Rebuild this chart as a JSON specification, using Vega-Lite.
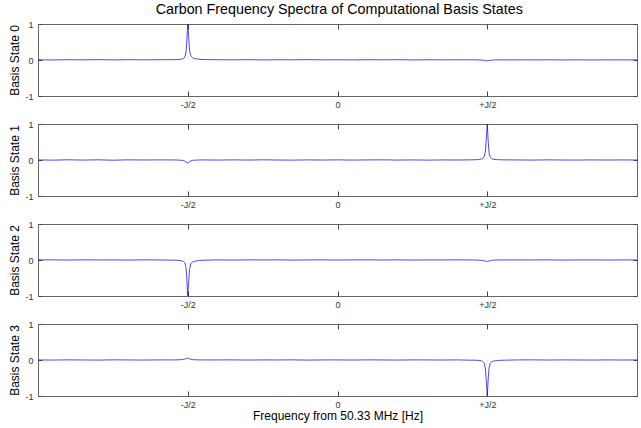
{
  "$schema": "https://vega.github.io/schema/vega-lite/v6.json",
  "autosize": {"type": "pad"},
  "padding": {"left": 8, "top": 3, "right": 4, "bottom": 5},
  "background": "white",
  "title": {"text": "Carbon Frequency Spectra of Computational Basis States", "font": "Liberation Sans", "fontSize": 14.3, "fontWeight": "normal", "color": "black", "anchor": "middle", "offset": 2, "dx": 16},
  "config": {
    "font": "Liberation Sans",
    "view": {"stroke": "#666666", "strokeWidth": 1},
    "axis": {"grid": false, "domainColor": "#666666", "tickColor": "#444444", "labelColor": "#333333", "labelFontSize": 9, "labelFont": "Liberation Sans", "labelOverlap": false, "titleFont": "Liberation Sans", "titleFontSize": 12, "titleFontWeight": "normal", "titleColor": "black"}
  },
  "bounds": "flush",
  "spacing": 28,
  "datasets": {
    "spec": [
      {"x": -1, "a": 0.006, "b": 0.003, "c": 0.002, "d": 0.003},
      {"x": -0.95, "a": 0.002, "b": -0.004, "c": 0.004, "d": -0.002},
      {"x": -0.9, "a": 0.008, "b": 0.006, "c": -0.002, "d": 0.004},
      {"x": -0.85, "a": 0.004, "b": -0.002, "c": 0.005, "d": 0.001},
      {"x": -0.8, "a": 0.01, "b": 0.005, "c": 0.001, "d": -0.003},
      {"x": -0.75, "a": 0.003, "b": -0.006, "c": 0.003, "d": 0.004},
      {"x": -0.7, "a": 0.009, "b": 0.004, "c": -0.003, "d": 0.002},
      {"x": -0.65, "a": 0.005, "b": 0.0, "c": 0.004, "d": -0.002},
      {"x": -0.6, "a": 0.007, "b": 0.003, "c": 0.002, "d": 0.003},
      {"x": -0.56, "a": 0.01, "b": 0.002, "c": -0.004, "d": 0.002},
      {"x": -0.54, "a": 0.012, "b": 0.0, "c": -0.006, "d": 0.003},
      {"x": -0.53, "a": 0.015, "b": -0.003, "c": -0.012, "d": 0.006},
      {"x": -0.52, "a": 0.025, "b": -0.008, "c": -0.022, "d": 0.01},
      {"x": -0.515, "a": 0.04, "b": -0.015, "c": -0.04, "d": 0.016},
      {"x": -0.51, "a": 0.075, "b": -0.03, "c": -0.075, "d": 0.025},
      {"x": -0.506, "a": 0.2, "b": -0.055, "c": -0.2, "d": 0.038},
      {"x": -0.503, "a": 0.55, "b": -0.075, "c": -0.55, "d": 0.048},
      {"x": -0.5, "a": 1.0, "b": -0.08, "c": -1.0, "d": 0.05},
      {"x": -0.497, "a": 0.62, "b": -0.07, "c": -0.6, "d": 0.045},
      {"x": -0.494, "a": 0.27, "b": -0.045, "c": -0.26, "d": 0.032},
      {"x": -0.49, "a": 0.12, "b": -0.025, "c": -0.11, "d": 0.02},
      {"x": -0.485, "a": 0.07, "b": -0.012, "c": -0.06, "d": 0.012},
      {"x": -0.48, "a": 0.045, "b": -0.006, "c": -0.04, "d": 0.008},
      {"x": -0.47, "a": 0.03, "b": -0.003, "c": -0.025, "d": 0.005},
      {"x": -0.46, "a": 0.018, "b": 0.001, "c": -0.012, "d": 0.003},
      {"x": -0.44, "a": 0.01, "b": 0.002, "c": -0.005, "d": 0.002},
      {"x": -0.4, "a": 0.008, "b": -0.003, "c": 0.003, "d": 0.002},
      {"x": -0.35, "a": 0.004, "b": 0.004, "c": -0.002, "d": 0.004},
      {"x": -0.3, "a": 0.009, "b": -0.002, "c": 0.004, "d": -0.002},
      {"x": -0.25, "a": 0.003, "b": 0.005, "c": 0.001, "d": 0.003},
      {"x": -0.2, "a": 0.007, "b": 0.0, "c": 0.005, "d": 0.001},
      {"x": -0.15, "a": 0.005, "b": -0.004, "c": -0.003, "d": 0.004},
      {"x": -0.1, "a": 0.01, "b": 0.003, "c": 0.002, "d": -0.003},
      {"x": -0.05, "a": 0.004, "b": -0.001, "c": 0.004, "d": 0.002},
      {"x": 0, "a": 0.006, "b": 0.004, "c": -0.001, "d": 0.003},
      {"x": 0.05, "a": 0.003, "b": -0.003, "c": 0.003, "d": -0.002},
      {"x": 0.1, "a": 0.008, "b": 0.002, "c": 0.005, "d": 0.004},
      {"x": 0.15, "a": 0.005, "b": 0.005, "c": 0.0, "d": 0.001},
      {"x": 0.2, "a": 0.009, "b": -0.002, "c": 0.004, "d": -0.002},
      {"x": 0.25, "a": 0.002, "b": 0.003, "c": -0.002, "d": 0.003},
      {"x": 0.3, "a": 0.007, "b": -0.004, "c": 0.003, "d": 0.002},
      {"x": 0.35, "a": 0.004, "b": 0.002, "c": 0.001, "d": -0.001},
      {"x": 0.4, "a": 0.006, "b": 0.0, "c": 0.004, "d": 0.003},
      {"x": 0.44, "a": 0.006, "b": 0.004, "c": 0.002, "d": -0.005},
      {"x": 0.46, "a": 0.004, "b": 0.007, "c": 0.0, "d": -0.006},
      {"x": 0.47, "a": 0.002, "b": 0.012, "c": -0.003, "d": -0.01},
      {"x": 0.48, "a": -0.002, "b": 0.025, "c": -0.008, "d": -0.02},
      {"x": 0.485, "a": -0.006, "b": 0.045, "c": -0.014, "d": -0.04},
      {"x": 0.49, "a": -0.01, "b": 0.1, "c": -0.022, "d": -0.09},
      {"x": 0.494, "a": -0.015, "b": 0.25, "c": -0.032, "d": -0.25},
      {"x": 0.497, "a": -0.02, "b": 0.6, "c": -0.04, "d": -0.6},
      {"x": 0.5, "a": -0.022, "b": 1.0, "c": -0.042, "d": -1.0},
      {"x": 0.503, "a": -0.018, "b": 0.55, "c": -0.036, "d": -0.55},
      {"x": 0.506, "a": -0.012, "b": 0.2, "c": -0.025, "d": -0.22},
      {"x": 0.51, "a": -0.007, "b": 0.07, "c": -0.015, "d": -0.09},
      {"x": 0.515, "a": -0.003, "b": 0.035, "c": -0.008, "d": -0.05},
      {"x": 0.52, "a": 0.0, "b": 0.02, "c": -0.004, "d": -0.03},
      {"x": 0.53, "a": 0.003, "b": 0.012, "c": -0.001, "d": -0.02},
      {"x": 0.54, "a": 0.005, "b": 0.007, "c": 0.001, "d": -0.01},
      {"x": 0.56, "a": 0.004, "b": 0.004, "c": 0.002, "d": -0.005},
      {"x": 0.6, "a": 0.005, "b": 0.002, "c": 0.003, "d": 0.002},
      {"x": 0.65, "a": 0.003, "b": -0.003, "c": 0.001, "d": 0.004},
      {"x": 0.7, "a": 0.006, "b": 0.004, "c": 0.004, "d": -0.001},
      {"x": 0.75, "a": 0.002, "b": 0.0, "c": -0.002, "d": 0.003},
      {"x": 0.8, "a": 0.004, "b": -0.002, "c": 0.002, "d": 0.001},
      {"x": 0.85, "a": 0.001, "b": 0.003, "c": 0.003, "d": -0.002},
      {"x": 0.9, "a": 0.005, "b": -0.001, "c": 0.0, "d": 0.003},
      {"x": 0.95, "a": 0.003, "b": 0.002, "c": 0.002, "d": 0.0},
      {"x": 1, "a": 0.004, "b": 0.0, "c": 0.001, "d": 0.002}
    ]
  },
  "vconcat": [
    {
      "width": 599, "height": 72,
      "data": {"name": "spec"},
      "layer": [
        {"mark": {"type": "line", "color": "#1a1aff", "strokeWidth": 0.8, "clip": true},
         "encoding": {
           "x": {"field": "x", "type": "quantitative", "scale": {"domain": [-1, 1], "nice": false, "zero": false},
                 "axis": {"orient": "bottom", "values": [-0.5, 0, 0.5], "labelExpr": "datum.value < 0 ? '-J/2' : datum.value > 0 ? '+J/2' : '0'", "tickSize": -5, "labelPadding": 9, "title": null, "domain": false}},
           "y": {"field": "a", "type": "quantitative", "scale": {"domain": [-1, 1], "nice": false},
                 "axis": {"orient": "left", "values": [-1, 0, 1], "labelExpr": "datum.value < 0 ? '-1' : datum.value > 0 ? '1' : '0'", "tickSize": -4, "labelPadding": 9, "title": "Basis State 0", "titlePadding": 3, "domain": false}}
         }},
        {"mark": {"type": "line", "opacity": 0},
         "encoding": {
           "x": {"field": "x", "type": "quantitative", "scale": {"domain": [-1, 1], "nice": false, "zero": false},
                 "axis": {"orient": "top", "values": [-0.5, 0, 0.5], "labels": false, "tickSize": -5, "title": null, "domain": false}},
           "y": {"field": "a", "type": "quantitative", "scale": {"domain": [-1, 1], "nice": false},
                 "axis": {"orient": "right", "values": [-1, 0, 1], "labels": false, "tickSize": -4, "title": null, "domain": false}}
         }}
      ],
      "resolve": {"axis": {"x": "independent", "y": "independent"}}
    },
    {
      "width": 599, "height": 72,
      "data": {"name": "spec"},
      "layer": [
        {"mark": {"type": "line", "color": "#1a1aff", "strokeWidth": 0.8, "clip": true},
         "encoding": {
           "x": {"field": "x", "type": "quantitative", "scale": {"domain": [-1, 1], "nice": false, "zero": false},
                 "axis": {"orient": "bottom", "values": [-0.5, 0, 0.5], "labelExpr": "datum.value < 0 ? '-J/2' : datum.value > 0 ? '+J/2' : '0'", "tickSize": -5, "labelPadding": 9, "title": null, "domain": false}},
           "y": {"field": "b", "type": "quantitative", "scale": {"domain": [-1, 1], "nice": false},
                 "axis": {"orient": "left", "values": [-1, 0, 1], "labelExpr": "datum.value < 0 ? '-1' : datum.value > 0 ? '1' : '0'", "tickSize": -4, "labelPadding": 9, "title": "Basis State 1", "titlePadding": 3, "domain": false}}
         }},
        {"mark": {"type": "line", "opacity": 0},
         "encoding": {
           "x": {"field": "x", "type": "quantitative", "scale": {"domain": [-1, 1], "nice": false, "zero": false},
                 "axis": {"orient": "top", "values": [-0.5, 0, 0.5], "labels": false, "tickSize": -5, "title": null, "domain": false}},
           "y": {"field": "b", "type": "quantitative", "scale": {"domain": [-1, 1], "nice": false},
                 "axis": {"orient": "right", "values": [-1, 0, 1], "labels": false, "tickSize": -4, "title": null, "domain": false}}
         }}
      ],
      "resolve": {"axis": {"x": "independent", "y": "independent"}}
    },
    {
      "width": 599, "height": 72,
      "data": {"name": "spec"},
      "layer": [
        {"mark": {"type": "line", "color": "#1a1aff", "strokeWidth": 0.8, "clip": true},
         "encoding": {
           "x": {"field": "x", "type": "quantitative", "scale": {"domain": [-1, 1], "nice": false, "zero": false},
                 "axis": {"orient": "bottom", "values": [-0.5, 0, 0.5], "labelExpr": "datum.value < 0 ? '-J/2' : datum.value > 0 ? '+J/2' : '0'", "tickSize": -5, "labelPadding": 9, "title": null, "domain": false}},
           "y": {"field": "c", "type": "quantitative", "scale": {"domain": [-1, 1], "nice": false},
                 "axis": {"orient": "left", "values": [-1, 0, 1], "labelExpr": "datum.value < 0 ? '-1' : datum.value > 0 ? '1' : '0'", "tickSize": -4, "labelPadding": 9, "title": "Basis State 2", "titlePadding": 3, "domain": false}}
         }},
        {"mark": {"type": "line", "opacity": 0},
         "encoding": {
           "x": {"field": "x", "type": "quantitative", "scale": {"domain": [-1, 1], "nice": false, "zero": false},
                 "axis": {"orient": "top", "values": [-0.5, 0, 0.5], "labels": false, "tickSize": -5, "title": null, "domain": false}},
           "y": {"field": "c", "type": "quantitative", "scale": {"domain": [-1, 1], "nice": false},
                 "axis": {"orient": "right", "values": [-1, 0, 1], "labels": false, "tickSize": -4, "title": null, "domain": false}}
         }}
      ],
      "resolve": {"axis": {"x": "independent", "y": "independent"}}
    },
    {
      "width": 599, "height": 72,
      "data": {"name": "spec"},
      "layer": [
        {"mark": {"type": "line", "color": "#1a1aff", "strokeWidth": 0.8, "clip": true},
         "encoding": {
           "x": {"field": "x", "type": "quantitative", "scale": {"domain": [-1, 1], "nice": false, "zero": false},
                 "axis": {"orient": "bottom", "values": [-0.5, 0, 0.5], "labelExpr": "datum.value < 0 ? '-J/2' : datum.value > 0 ? '+J/2' : '0'", "tickSize": -5, "labelPadding": 9, "title": "Frequency from 50.33 MHz [Hz]", "titlePadding": 1, "domain": false}},
           "y": {"field": "d", "type": "quantitative", "scale": {"domain": [-1, 1], "nice": false},
                 "axis": {"orient": "left", "values": [-1, 0, 1], "labelExpr": "datum.value < 0 ? '-1' : datum.value > 0 ? '1' : '0'", "tickSize": -4, "labelPadding": 9, "title": "Basis State 3", "titlePadding": 3, "domain": false}}
         }},
        {"mark": {"type": "line", "opacity": 0},
         "encoding": {
           "x": {"field": "x", "type": "quantitative", "scale": {"domain": [-1, 1], "nice": false, "zero": false},
                 "axis": {"orient": "top", "values": [-0.5, 0, 0.5], "labels": false, "tickSize": -5, "title": null, "domain": false}},
           "y": {"field": "d", "type": "quantitative", "scale": {"domain": [-1, 1], "nice": false},
                 "axis": {"orient": "right", "values": [-1, 0, 1], "labels": false, "tickSize": -4, "title": null, "domain": false}}
         }}
      ],
      "resolve": {"axis": {"x": "independent", "y": "independent"}}
    }
  ]
}
